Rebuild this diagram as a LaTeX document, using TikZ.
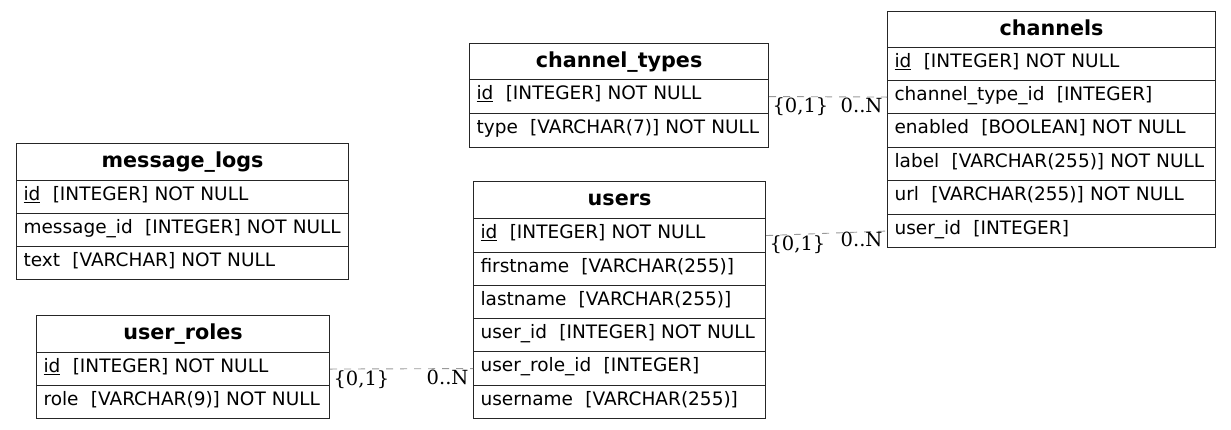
\documentclass[tikz,border=0pt]{standalone}
\usepackage{fontspec}
\setmainfont{DejaVu Sans}
\newfontfamily\lblfont{DejaVu Serif}
\begin{document}
\begin{tikzpicture}[x=1pt,y=-1pt,
  cell/.style={draw=black!85, line width=1.1pt, anchor=north west, inner xsep=7pt, inner ysep=0pt,
     align=left, text height=13pt, text depth=7pt, font=\fontsize{18.5}{20}\selectfont},
  hdr/.style={cell, align=center, text height=14pt, text depth=3pt, font=\fontsize{20.7}{22}\selectfont\bfseries},
  rel/.style={draw=black!40, line width=0.9pt, dash pattern=on 7pt off 7pt},
  card/.style={font=\lblfont\fontsize{19.5}{21}\selectfont, inner sep=1pt, text=black}]
\useasboundingbox (0,0) rectangle (1231,429);
% channel_types
\node[hdr, text width=285pt, minimum height=36pt] (ct) at (469,43) {channel\_types};
\node[cell, text width=285pt, minimum height=34pt] (ct-id) at (469,79) {\underline{id}\ \ [INTEGER] NOT NULL};
\node[cell, text width=285pt, minimum height=34pt] (ct-type) at (469,113) {type\ \ [VARCHAR(7)] NOT NULL};
% channels
\node[hdr, text width=314pt, minimum height=36pt] (ch) at (887,11) {channels};
\node[cell, text width=314pt, minimum height=33pt] (ch-id) at (887,47) {\underline{id}\ \ [INTEGER] NOT NULL};
\node[cell, text width=314pt, minimum height=33pt] (ch-ctid) at (887,80) {channel\_type\_id\ \ [INTEGER]};
\node[cell, text width=314pt, minimum height=34pt] (ch-en) at (887,113) {enabled\ \ [BOOLEAN] NOT NULL};
\node[cell, text width=314pt, minimum height=33pt] (ch-label) at (887,147) {label\ \ [VARCHAR(255)] NOT NULL};
\node[cell, text width=314pt, minimum height=34pt] (ch-url) at (887,180) {url\ \ [VARCHAR(255)] NOT NULL};
\node[cell, text width=314pt, minimum height=33pt] (ch-uid) at (887,214) {user\_id\ \ [INTEGER]};
% message_logs
\node[hdr, text width=318pt, minimum height=37pt] (ml) at (16,143) {message\_logs};
\node[cell, text width=318pt, minimum height=33pt] (ml-id) at (16,180) {\underline{id}\ \ [INTEGER] NOT NULL};
\node[cell, text width=318pt, minimum height=33pt] (ml-mid) at (16,213) {message\_id\ \ [INTEGER] NOT NULL};
\node[cell, text width=318pt, minimum height=33pt] (ml-text) at (16,246) {text\ \ [VARCHAR] NOT NULL};
% users
\node[hdr, text width=278pt, minimum height=37pt] (us) at (473,181) {users};
\node[cell, text width=278pt, minimum height=34pt] (us-id) at (473,218) {\underline{id}\ \ [INTEGER] NOT NULL};
\node[cell, text width=278pt, minimum height=33pt] (us-fn) at (473,252) {firstname\ \ [VARCHAR(255)]};
\node[cell, text width=278pt, minimum height=33pt] (us-ln) at (473,285) {lastname\ \ [VARCHAR(255)]};
\node[cell, text width=278pt, minimum height=33pt] (us-uid) at (473,318) {user\_id\ \ [INTEGER] NOT NULL};
\node[cell, text width=278pt, minimum height=34pt] (us-rid) at (473,351) {user\_role\_id\ \ [INTEGER]};
\node[cell, text width=278pt, minimum height=33pt] (us-un) at (473,385) {username\ \ [VARCHAR(255)]};
% user_roles
\node[hdr, text width=279pt, minimum height=37pt] (ur) at (36,315) {user\_roles};
\node[cell, text width=279pt, minimum height=33pt] (ur-id) at (36,352) {\underline{id}\ \ [INTEGER] NOT NULL};
\node[cell, text width=279pt, minimum height=33pt] (ur-role) at (36,385) {role\ \ [VARCHAR(9)] NOT NULL};
% relations
\draw[rel] (ct-id.east) -- (ch-ctid.west)
  node[card, at start, anchor=north west, yshift=0pt, xshift=2pt] {\{0,1\}}
  node[card, at end, anchor=north east, yshift=0pt, xshift=-3pt] {0..N};
\draw[rel] (us-id.east) -- (ch-uid.west)
  node[card, at start, anchor=north west, yshift=1pt, xshift=2pt] {\{0,1\}}
  node[card, at end, anchor=north east, yshift=0pt, xshift=-3pt] {0..N};
\draw[rel] (ur-id.east) -- (us-rid.west)
  node[card, at start, anchor=north west, yshift=0pt, xshift=2pt] {\{0,1\}}
  node[card, at end, anchor=north east, yshift=0pt, xshift=-3pt] {0..N};
\end{tikzpicture}
\end{document}
